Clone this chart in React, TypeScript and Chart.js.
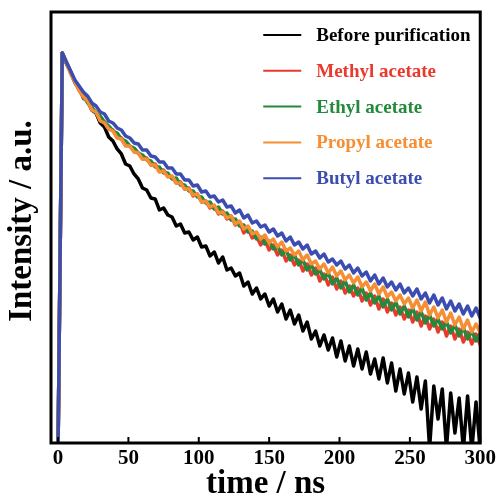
import React, { useEffect, useRef } from 'react';
import { Chart, registerables } from 'chart.js';

Chart.register(...registerables);

// time axis (ns)
const times = [
  0, 3, 6, 9, 12, 15, 18, 21, 24, 27, 30,
  33, 36, 39, 42, 45, 48, 51, 54, 57, 60,
  63, 66, 69, 72, 75, 78, 81, 84, 87, 90,
  93, 96, 99, 102, 105, 108, 111, 114, 117, 120,
  123, 126, 129, 132, 135, 138, 141, 144, 147, 150,
  153, 156, 159, 162, 165, 168, 171, 174, 177, 180,
  183, 186, 189, 192, 195, 198, 201, 204, 207, 210,
  213, 216, 219, 222, 225, 228, 231, 234, 237, 240,
  243, 246, 249, 252, 255, 258, 261, 264, 267, 270,
  273, 276, 279, 282, 285, 288, 291, 294, 297, 300,
];

const xTickValues = [0, 50, 100, 150, 200, 250, 300];

// log10 of PL counts
const logBefore = [
  -0.1,
  3.90, 3.79, 3.71, 3.61, 3.55, 3.45, 3.42, 3.33, 3.30, 3.20,
  3.16, 3.06, 3.02, 2.94, 2.89, 2.79, 2.77, 2.69, 2.64, 2.55,
  2.53, 2.45, 2.44, 2.33, 2.35, 2.28, 2.26, 2.17, 2.19, 2.10,
  2.11, 2.03, 2.06, 1.96, 1.97, 1.87, 1.91, 1.80, 1.86, 1.73,
  1.75, 1.67, 1.70, 1.57, 1.61, 1.49, 1.55, 1.44, 1.49, 1.37,
  1.44, 1.31, 1.39, 1.24, 1.33, 1.19, 1.28, 1.12, 1.21, 1.04,
  1.12, 0.97, 1.08, 0.93, 1.05, 0.86, 1.02, 0.82, 0.97, 0.77,
  0.94, 0.74, 0.91, 0.69, 0.84, 0.64, 0.85, 0.60, 0.80, 0.52,
  0.74, 0.49, 0.70, 0.41, 0.66, 0.34, 0.62, -0.05, 0.57, 0.24,
  0.54, -0.05, 0.50, 0.10, 0.45, -0.06, 0.47, -0.07, 0.41, -0.07,
];

const logMethyl = [
  -0.1,
  3.90, 3.80, 3.70, 3.61, 3.53, 3.46, 3.42, 3.33, 3.31, 3.23,
  3.21, 3.14, 3.13, 3.06, 3.05, 2.98, 2.97, 2.92, 2.90, 2.84,
  2.85, 2.78, 2.79, 2.72, 2.73, 2.67, 2.66, 2.60, 2.61, 2.54,
  2.55, 2.47, 2.49, 2.41, 2.42, 2.35, 2.37, 2.29, 2.32, 2.24,
  2.27, 2.18, 2.21, 2.10, 2.15, 2.05, 2.07, 1.98, 2.03, 1.93,
  1.98, 1.88, 1.93, 1.82, 1.88, 1.78, 1.83, 1.72, 1.79, 1.68,
  1.75, 1.62, 1.69, 1.58, 1.66, 1.54, 1.62, 1.50, 1.57, 1.47,
  1.55, 1.42, 1.50, 1.38, 1.47, 1.34, 1.44, 1.31, 1.40, 1.28,
  1.36, 1.24, 1.33, 1.21, 1.31, 1.17, 1.27, 1.14, 1.24, 1.11,
  1.21, 1.07, 1.17, 1.04, 1.14, 1.01, 1.11, 0.99, 1.09, 0.98,
];

const logEthyl = [
  -0.1,
  3.90, 3.80, 3.71, 3.60, 3.54, 3.48, 3.40, 3.36, 3.30, 3.27,
  3.21, 3.17, 3.12, 3.10, 3.04, 3.02, 2.97, 2.95, 2.90, 2.88,
  2.83, 2.82, 2.76, 2.76, 2.70, 2.70, 2.64, 2.65, 2.58, 2.58,
  2.52, 2.52, 2.46, 2.46, 2.40, 2.41, 2.34, 2.36, 2.29, 2.30,
  2.23, 2.24, 2.17, 2.18, 2.11, 2.12, 2.04, 2.06, 1.99, 2.02,
  1.94, 1.97, 1.88, 1.93, 1.83, 1.88, 1.78, 1.83, 1.73, 1.78,
  1.69, 1.73, 1.64, 1.70, 1.59, 1.65, 1.55, 1.62, 1.51, 1.58,
  1.48, 1.55, 1.43, 1.50, 1.40, 1.47, 1.36, 1.44, 1.33, 1.41,
  1.29, 1.37, 1.26, 1.35, 1.23, 1.31, 1.20, 1.28, 1.17, 1.24,
  1.14, 1.21, 1.10, 1.18, 1.07, 1.15, 1.04, 1.12, 1.02, 1.10,
];

const logPropyl = [
  -0.1,
  3.90, 3.80, 3.69, 3.61, 3.52, 3.46, 3.42, 3.33, 3.31, 3.22,
  3.20, 3.14, 3.12, 3.05, 3.04, 2.97, 2.97, 2.91, 2.90, 2.84,
  2.84, 2.78, 2.78, 2.71, 2.72, 2.66, 2.67, 2.60, 2.60, 2.54,
  2.54, 2.48, 2.49, 2.41, 2.42, 2.36, 2.38, 2.30, 2.31, 2.25,
  2.27, 2.19, 2.22, 2.14, 2.17, 2.09, 2.11, 2.04, 2.08, 2.00,
  2.04, 1.96, 2.01, 1.92, 1.95, 1.88, 1.92, 1.83, 1.88, 1.79,
  1.82, 1.74, 1.79, 1.70, 1.76, 1.67, 1.72, 1.63, 1.68, 1.60,
  1.66, 1.56, 1.61, 1.52, 1.59, 1.49, 1.56, 1.46, 1.51, 1.42,
  1.48, 1.39, 1.45, 1.35, 1.43, 1.32, 1.41, 1.28, 1.36, 1.25,
  1.33, 1.21, 1.30, 1.18, 1.26, 1.14, 1.23, 1.11, 1.19, 1.10,
];

const logButyl = [
  -0.1,
  3.90, 3.81, 3.72, 3.63, 3.57, 3.51, 3.47, 3.40, 3.37, 3.31,
  3.29, 3.22, 3.20, 3.15, 3.13, 3.07, 3.05, 3.00, 2.99, 2.93,
  2.93, 2.87, 2.86, 2.81, 2.81, 2.75, 2.75, 2.69, 2.69, 2.63,
  2.63, 2.57, 2.58, 2.51, 2.52, 2.46, 2.47, 2.41, 2.43, 2.36,
  2.37, 2.30, 2.33, 2.25, 2.28, 2.20, 2.22, 2.16, 2.18, 2.11,
  2.14, 2.07, 2.10, 2.02, 2.06, 1.98, 2.01, 1.94, 1.98, 1.89,
  1.92, 1.85, 1.89, 1.81, 1.84, 1.78, 1.82, 1.74, 1.78, 1.70,
  1.75, 1.67, 1.71, 1.62, 1.68, 1.59, 1.65, 1.56, 1.61, 1.53,
  1.59, 1.50, 1.55, 1.47, 1.54, 1.44, 1.50, 1.40, 1.48, 1.38,
  1.45, 1.34, 1.42, 1.32, 1.39, 1.29, 1.37, 1.27, 1.35, 1.25,
];

const seriesLabels = ['Before purification', 'Methyl acetate', 'Ethyl acetate', 'Propyl acetate', 'Butyl acetate'];
const seriesColors = ['#000000', '#ea3a2e', '#25893c', '#f68e33', '#3b4db0'];
const seriesLogs = [logBefore, logMethyl, logEthyl, logPropyl, logButyl];
const seriesOrder = [4, 3, 2, 1, 0];

const FONT = '"Liberation Serif", "Times New Roman", serif';

export default function App() {
  const canvasRef = useRef<HTMLCanvasElement | null>(null);

  useEffect(() => {
    const canvas = canvasRef.current;
    if (!canvas) return;

    const decorPlugin = {
      id: 'decor',
      afterDraw(chart: any) {
        const { ctx, chartArea: a, scales } = chart;
        ctx.save();
        // inward ticks on bottom axis
        ctx.strokeStyle = '#000';
        ctx.lineWidth = 2;
        xTickValues.forEach((v) => {
          const px = scales.x.getPixelForValue(v);
          ctx.beginPath();
          ctx.moveTo(px, a.bottom);
          ctx.lineTo(px, a.bottom - 6);
          ctx.stroke();
        });
        // frame
        ctx.lineWidth = 3;
        ctx.strokeRect(a.left, a.top, a.right - a.left, a.bottom - a.top);

        // legend
        ctx.font = `bold 19px ${FONT}`;
        ctx.textAlign = 'left';
        ctx.textBaseline = 'alphabetic';
        chart.data.datasets.forEach((ds: any, i: number) => {
          const y = a.top + 23 + i * 35.8;
          ctx.strokeStyle = ds.borderColor;
          ctx.lineWidth = 2;
          ctx.beginPath();
          ctx.moveTo(a.right - 217, y);
          ctx.lineTo(a.right - 179, y);
          ctx.stroke();
          ctx.fillStyle = ds.borderColor;
          ctx.fillText(ds.label, a.right - 164, y + 6);
        });

        // y title
        ctx.translate(22, 221);
        ctx.rotate(-Math.PI / 2);
        ctx.font = `bold 33px ${FONT}`;
        ctx.fillStyle = '#000';
        ctx.textAlign = 'center';
        ctx.textBaseline = 'middle';
        ctx.fillText('Intensity / a.u.', 0, 0);
        ctx.restore();
      },
    };

    const chart = new Chart(canvas, {
      type: 'line',
      data: {
        datasets: seriesLabels.map((label, k) => ({
          label,
          data: times.map((t, i) => ({ x: t, y: Math.pow(10, seriesLogs[k][i]) })),
          borderColor: seriesColors[k],
          backgroundColor: seriesColors[k],
          borderWidth: 3.5,
          borderJoinStyle: 'round',
          borderCapStyle: 'round',
          pointRadius: 0,
          tension: 0,
          fill: false,
          order: seriesOrder[k],
        })),
      },
      options: {
        animation: false,
        responsive: true,
        maintainAspectRatio: false,
        layout: { padding: { top: 12, right: 17, left: 0, bottom: 0 } },
        plugins: {
          legend: { display: false },
          tooltip: { enabled: false },
        },
        scales: {
          x: {
            type: 'linear',
            min: -5,
            max: 300,
            afterBuildTicks: (s: any) => {
              s.ticks = xTickValues.map((v) => ({ value: v }));
            },
            afterFit: (s: any) => {
              s.height = 59;
            },
            grid: { display: false, drawTicks: false },
            border: { display: false },
            ticks: {
              autoSkip: false,
              maxRotation: 0,
              padding: 3,
              color: '#000',
              font: { family: FONT, weight: 'bold', size: 21 },
            },
            title: {
              display: true,
              text: 'time / ns',
              color: '#000',
              font: { family: FONT, weight: 'bold', size: 33, lineHeight: 1 },
              padding: { top: 0, bottom: 1.5 },
            },
          },
          y: {
            type: 'logarithmic',
            min: 1,
            max: 20400,
            afterFit: (s: any) => {
              s.width = 51;
            },
            grid: { display: false, drawTicks: false },
            border: { display: false },
            ticks: { display: false },
          },
        },
      } as any,
      plugins: [decorPlugin],
    });

    return () => {
      chart.destroy();
    };
  }, []);

  return (
    <div style={{ position: 'fixed', left: 0, top: 0, width: 499, height: 502, background: '#fff' }}>
      <canvas ref={canvasRef} />
    </div>
  );
}
